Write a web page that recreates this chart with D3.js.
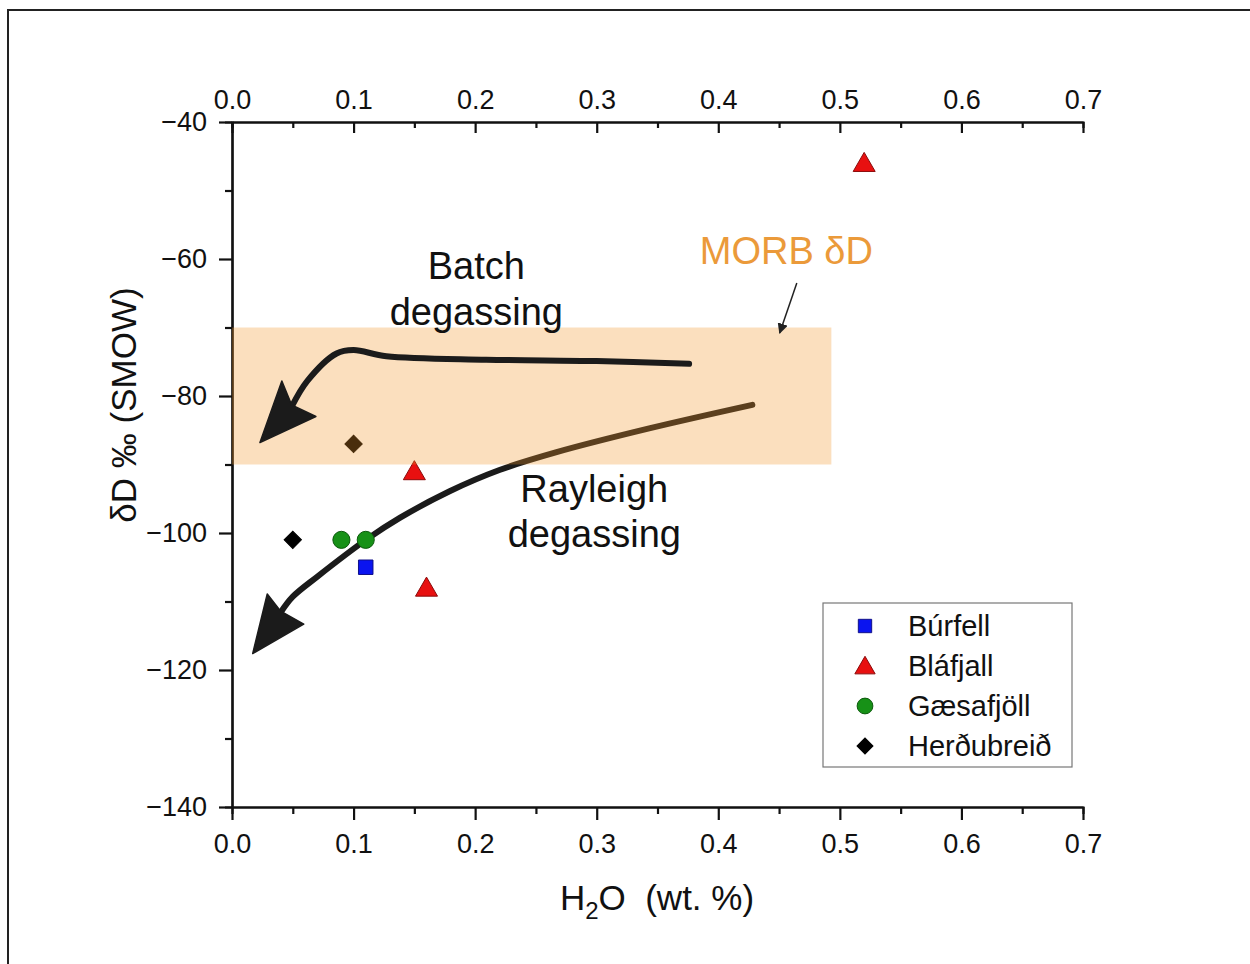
<!DOCTYPE html>
<html>
<head>
<meta charset="utf-8">
<script src="https://cdn.jsdelivr.net/npm/d3@7"></script>
<style>
  body { margin: 0; background: #fff; }
  text { font-family: "Liberation Sans", Arial, sans-serif; }
</style>
</head>
<body>
<script>
// data
var sites = ["Búrfell", "Bláfjall", "Gæsafjöll", "Herðubreið"];
var burfell = [[0.11, -105]];
var blafjall = [[0.52, -46], [0.15, -91], [0.16, -108]];
var gaesafjoll = [[0.09, -101], [0.11, -101]];
var herdubreid = [[0.05, -101], [0.10, -87]];
var xTicks = [0, 0.1, 0.2, 0.3, 0.4, 0.5, 0.6, 0.7];
var yTicks = [-40, -60, -80, -100, -120, -140];
var morbBand = [0, 0.493, -70, -90];
// hand drawn degassing paths (data units)
var batchPath = [[0.376, -75.3], [0.30, -74.9], [0.209, -74.7], [0.127, -74.2], [0.100, -73.3], [0.086, -73.8], [0.062, -77.8], [0.049, -81.6]];
var batchHead = [[0.023, -86.8], [0.041, -77.8], [0.049, -81.3], [0.069, -83.0]];
var rayPath = [[0.428, -81.3], [0.344, -84.7], [0.267, -88.2], [0.220, -90.8], [0.179, -93.9], [0.138, -97.8], [0.111, -100.9], [0.070, -106.4], [0.050, -109.3], [0.040, -111.6]];
var rayHead = [[0.017, -117.6], [0.029, -108.9], [0.040, -111.4], [0.059, -113.3]];

var W = 1250, H = 964;
var svg = d3.select("body").append("svg")
    .attr("width", W)
    .attr("height", H);

svg.append("rect")
    .attr("x", 8).attr("y", 10)
    .attr("width", 1400).attr("height", 1100)
    .attr("fill", "none")
    .attr("stroke", "#222")
    .attr("stroke-width", 2);

var x = d3.scaleLinear().domain([0, 0.7]).range([232, 1083]);
var y = d3.scaleLinear().domain([-140, -40]).range([807, 122]);

var minus = function (v) { return String(v).replace("-", "\u2212"); };

// axes
function styleAxis(g) {
    g.selectAll("path").attr("stroke", "#111").attr("stroke-width", 2.2);
    g.selectAll("line").attr("stroke", "#111").attr("stroke-width", 2.2);
    g.selectAll("text").attr("font-size", 27).attr("fill", "#111")
        .style("font-family", "'Liberation Sans', Arial, sans-serif");
}
var minorX = d3.range(0.05, 0.7, 0.1);
var minorY = d3.range(-130, -40, 20);

svg.append("g").attr("transform", "translate(0,807)")
    .call(d3.axisBottom(x).tickValues(minorX).tickSize(7).tickFormat(""))
    .call(styleAxis);
svg.append("g").attr("transform", "translate(0,807)")
    .call(d3.axisBottom(x).tickValues(xTicks).tickSizeInner(13).tickSizeOuter(0).tickPadding(14).tickFormat(d3.format(".1f")))
    .call(styleAxis);

svg.append("g").attr("transform", "translate(0,122)")
    .call(d3.axisTop(x).tickValues(minorX).tickSize(-6).tickFormat(""))
    .call(styleAxis);
svg.append("g").attr("transform", "translate(0,122)")
    .call(d3.axisTop(x).tickValues(xTicks).tickSizeInner(-11).tickSizeOuter(0).tickPadding(13).tickFormat(d3.format(".1f")))
    .call(styleAxis);

svg.append("g").attr("transform", "translate(232,0)")
    .call(d3.axisLeft(y).tickValues(minorY).tickSize(7).tickFormat(""))
    .call(styleAxis);
svg.append("g").attr("transform", "translate(232,0)")
    .call(d3.axisLeft(y).tickValues(yTicks).tickSizeInner(13).tickSizeOuter(0).tickPadding(12).tickFormat(minus))
    .call(styleAxis);

// axis titles
var xt = svg.append("text")
    .attr("x", 657).attr("y", 910)
    .attr("text-anchor", "middle")
    .attr("font-size", 35)
    .attr("fill", "#111");
xt.append("tspan").text("H");
xt.append("tspan").text("2").attr("font-size", 24).attr("dy", 9);
xt.append("tspan").text("O\u00a0 (wt. %)").attr("dy", -9);

svg.append("text")
    .attr("transform", "translate(136,405) rotate(-90)")
    .attr("text-anchor", "middle")
    .attr("font-size", 35)
    .attr("fill", "#111")
    .text("δD ‰ (SMOW)");

// degassing paths
var line = d3.line().x(function (d) { return x(d[0]); }).y(function (d) { return y(d[1]); })
    .curve(d3.curveCatmullRom.alpha(0.5));
var poly = d3.line().x(function (d) { return x(d[0]); }).y(function (d) { return y(d[1]); });

function drawArrow(path, head) {
    svg.append("path")
        .attr("d", line(path))
        .attr("fill", "none")
        .attr("stroke", "#1b1b1b")
        .attr("stroke-width", 6)
        .attr("stroke-linecap", "round");
    svg.append("path")
        .attr("d", poly(head) + "Z")
        .attr("fill", "#1b1b1b")
        .attr("stroke", "#1b1b1b")
        .attr("stroke-width", 1.5)
        .attr("stroke-linejoin", "round");
}

// points
var sym = {
    "Búrfell": { shape: d3.symbolSquare, size: 210, rot: 0, fill: "#0a14f0", stroke: "#10108a" },
    "Bláfjall": { shape: d3.symbolTriangle, size: 210, rot: 0, fill: "#e81010", stroke: "#8a0a0a" },
    "Gæsafjöll": { shape: d3.symbolCircle, size: 230, rot: 0, fill: "#179117", stroke: "#0c5a0c" },
    "Herðubreið": { shape: d3.symbolSquare, size: 150, rot: 45, fill: "#000", stroke: "#000" }
};
var series = [burfell, blafjall, gaesafjoll, herdubreid];

// Rayleigh path lies under the band, batch path over it
drawArrow(rayPath, rayHead);

sites.forEach(function (s, i) {
    var st = sym[s];
    svg.selectAll(".p" + i)
        .data(series[i])
        .enter().append("path")
        .attr("class", "p" + i)
        .attr("transform", function (d) {
            var dy = st.shape === d3.symbolTriangle ? 2 : 0;
            return "translate(" + x(d[0]) + "," + (y(d[1]) + dy) + ") rotate(" + st.rot + ")";
        })
        .attr("d", d3.symbol().type(st.shape).size(st.size))
        .attr("fill", st.fill)
        .attr("stroke", st.stroke)
        .attr("stroke-width", 1);
});

// MORB band over the marks
svg.append("rect")
    .attr("x", x(morbBand[0]))
    .attr("y", y(morbBand[2]))
    .attr("width", x(morbBand[1]) - x(morbBand[0]))
    .attr("height", y(morbBand[3]) - y(morbBand[2]))
    .attr("fill", "rgb(242,150,40)")
    .attr("fill-opacity", 0.3);

drawArrow(batchPath, batchHead);

// annotations
function label(txt, xv, yv, size, col) {
    svg.append("text")
        .attr("x", x(xv)).attr("y", y(yv))
        .attr("text-anchor", "middle")
        .attr("font-size", size)
        .attr("fill", col)
        .text(txt);
}
label("Batch", 0.201, -62.9, 38, "#111");
label("degassing", 0.201, -69.6, 38, "#111");
label("Rayleigh", 0.298, -95.5, 38, "#111");
label("degassing", 0.298, -102.1, 38, "#111");
label("MORB δD", 0.456, -60.8, 38, "#eb9a3a");

// small pointer arrow for MORB label
svg.append("defs").append("marker")
    .attr("id", "ah")
    .attr("viewBox", "0 0 10 10")
    .attr("refX", 9).attr("refY", 5)
    .attr("markerWidth", 7).attr("markerHeight", 7)
    .attr("orient", "auto")
    .append("path")
    .attr("d", "M0,0L10,5L0,10Z")
    .attr("fill", "#222");
svg.append("line")
    .attr("x1", x(0.4646)).attr("y1", y(-63.5))
    .attr("x2", x(0.4505)).attr("y2", y(-70.8))
    .attr("stroke", "#222")
    .attr("stroke-width", 1.5)
    .attr("marker-end", "url(#ah)");

// legend
var lg = svg.append("g");
lg.append("rect")
    .attr("x", 823).attr("y", 603)
    .attr("width", 249).attr("height", 164)
    .attr("fill", "#fff")
    .attr("stroke", "#777")
    .attr("stroke-width", 1.2);
sites.forEach(function (s, i) {
    var st = sym[s];
    var yy = 626 + i * 40;
    lg.append("path")
        .attr("transform", "translate(865," + (yy + (st.shape === d3.symbolTriangle ? 2 : 0)) + ") rotate(" + st.rot + ")")
        .attr("d", d3.symbol().type(st.shape).size(st.size * 0.85))
        .attr("fill", st.fill)
        .attr("stroke", st.stroke)
        .attr("stroke-width", 1);
    lg.append("text")
        .attr("x", 908).attr("y", yy + 10)
        .attr("font-size", 29)
        .attr("fill", "#111")
        .text(s);
});
</script>
</body>
</html>
